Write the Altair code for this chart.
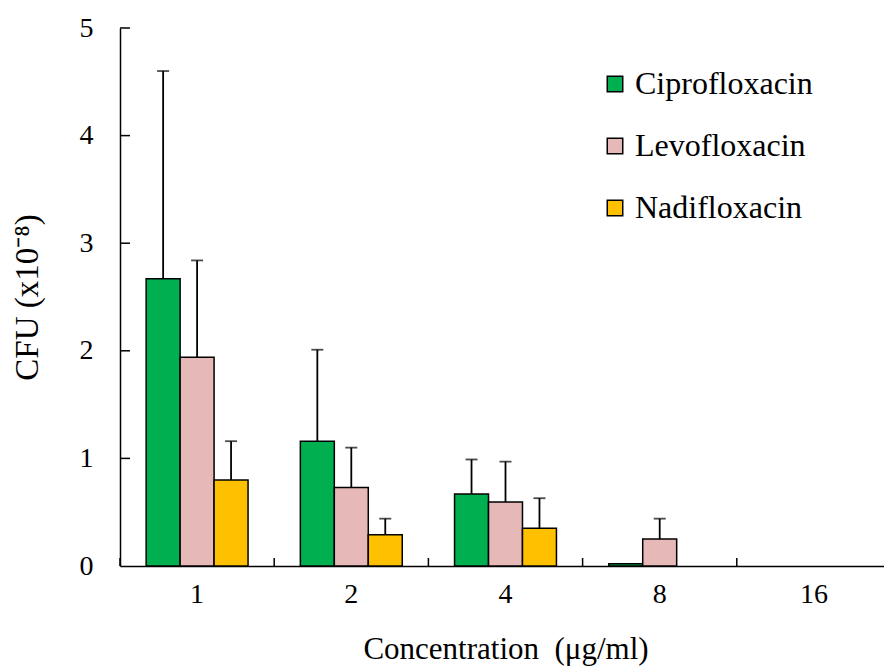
import altair as alt
import pandas as pd

conc = ["1", "2", "4", "8", "16"]
drugs = ["Ciprofloxacin", "Levofloxacin", "Nadifloxacin"]
colors = ["#00B050", "#E6B8B7", "#FFC000"]

cipro_mean = [2.67, 1.16, 0.67, 0.02, 0.0]
cipro_sd = [1.93, 0.85, 0.32, 0.0, 0.0]
levo_mean = [1.94, 0.73, 0.595, 0.25, 0.0]
levo_sd = [0.90, 0.37, 0.375, 0.19, 0.0]
nadi_mean = [0.80, 0.29, 0.35, 0.0, 0.0]
nadi_sd = [0.36, 0.15, 0.28, 0.0, 0.0]

y_ticks = [1, 2, 3, 4, 5]

rows = []
for drug, means, sds in zip(drugs, [cipro_mean, levo_mean, nadi_mean], [cipro_sd, levo_sd, nadi_sd]):
    for c, m, s in zip(conc, means, sds):
        rows.append({"conc": c, "drug": drug, "mean": m, "sd": s, "upper": m + s})
df = pd.DataFrame(rows)

FONT = "Liberation Serif"
W, H = 764, 538

x_enc = alt.X("conc:N", sort=conc, scale=alt.Scale(range=[0, 771], paddingInner=0, paddingOuter=0),
              axis=alt.Axis(title="Concentration\u00a0\u00a0(μg/ml)", ticks=False, labelAngle=0, labelFontSize=28,
                            labelFont=FONT, titleFont=FONT,
                            labelPadding=14, titleFontSize=31, titlePadding=26, titleFontWeight="normal",
                            domainColor="black", domainWidth=1.5, labelColor="black", titleColor="black"))
xoff = alt.XOffset("drug:N", sort=drugs, scale=alt.Scale(paddingOuter=0.77, paddingInner=0))
y_enc = alt.Y("mean:Q", scale=alt.Scale(domain=[0, 5], nice=False),
              axis=alt.Axis(title="CFU (x10⁻⁸)", values=[0, 1, 2, 3, 4, 5], format="d", ticks=False, grid=False,
                            labelFont=FONT, titleFont=FONT,
                            labelFontSize=28, labelPadding=27, titleFontSize=33, titlePadding=35,
                            titleFontWeight="normal", domainColor="black", domainWidth=1.5,
                            labelColor="black", titleColor="black"))

bars = alt.Chart(df).transform_filter("datum.mean > 0").mark_bar(
    stroke="black", strokeWidth=1.5
).encode(
    x=x_enc,
    xOffset=xoff,
    y=y_enc,
    color=alt.Color("drug:N", sort=drugs, scale=alt.Scale(domain=drugs, range=colors),
                    legend=alt.Legend(title=None, orient="none", legendX=479, legendY=40,
                                      symbolType="square", symbolSize=240, symbolStrokeColor="black",
                                      symbolStrokeWidth=1.5, labelFontSize=32, labelOffset=4,
                                      labelFont=FONT, labelLimit=400,
                                      rowPadding=30, labelColor="black", padding=0)),
)

err = alt.Chart(df).transform_filter("datum.sd > 0").mark_rule(color="black", strokeWidth=1.8).encode(
    x=alt.X("conc:N", sort=conc),
    xOffset=alt.XOffset("drug:N", sort=drugs),
    y=alt.Y("mean:Q"),
    y2=alt.Y2("upper:Q"),
)

caps = alt.Chart(df).transform_filter("datum.sd > 0").mark_tick(
    color="black", size=12, thickness=1.8, orient="horizontal"
).encode(
    x=alt.X("conc:N", sort=conc),
    xOffset=alt.XOffset("drug:N", sort=drugs),
    y=alt.Y("upper:Q"),
)

xt = alt.Chart(pd.DataFrame({"conc": conc})).mark_rule(color="black", strokeWidth=1.5).encode(
    x=alt.X("conc:N", sort=conc, bandPosition=0),
    y=alt.value(H),
    y2=alt.value(H - 8),
)

yt = alt.Chart(pd.DataFrame({"v": y_ticks})).mark_rule(color="black", strokeWidth=1.5).encode(
    y=alt.Y("v:Q"),
    x=alt.value(0),
    x2=alt.value(10),
)

chart = alt.layer(bars, err, caps, xt, yt).properties(
    width=W, height=H,
    autosize=alt.AutoSizeParams(type="none"),
    padding={"left": 120, "top": 28, "right": 0, "bottom": 100},
).configure(
    font=FONT,
).configure_view(stroke=None)

chart.save("out.html", embed_options={"renderer": "svg", "actions": False})
